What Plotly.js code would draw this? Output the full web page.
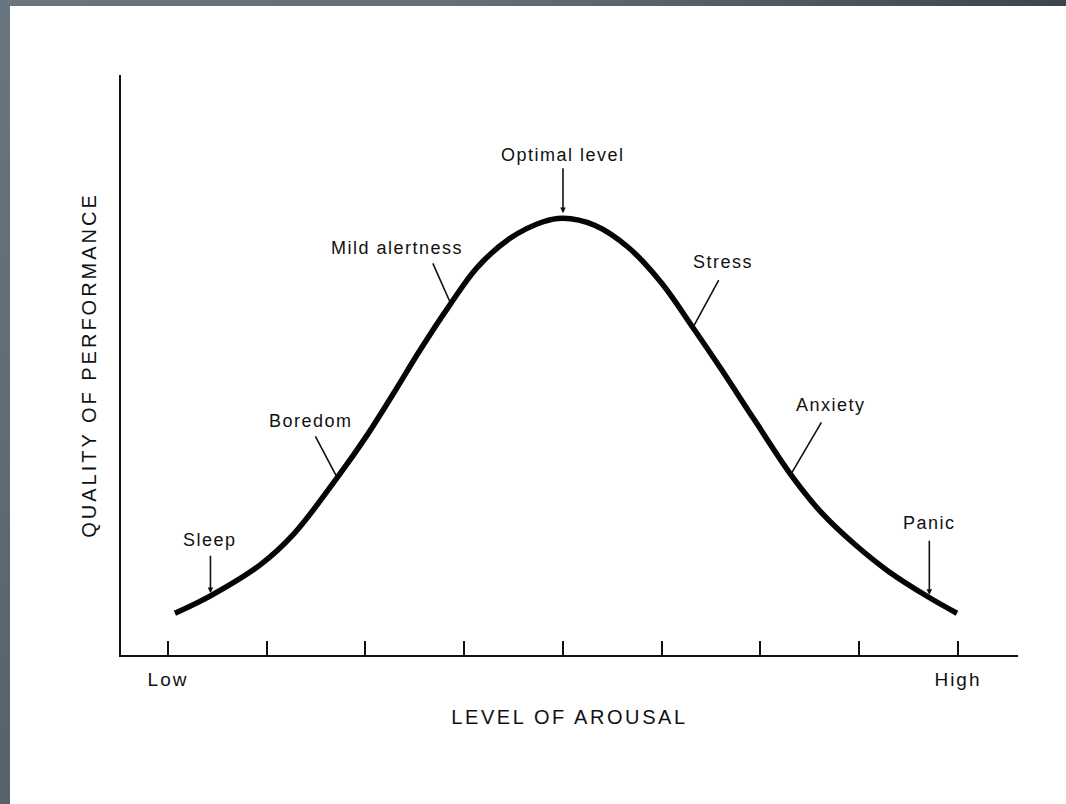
<!DOCTYPE html>
<html>
<head>
<meta charset="utf-8">
<script src="https://cdn.plot.ly/plotly-3.0.1.min.js"></script>
<style>
  html, body { margin: 0; padding: 0; width: 1066px; height: 804px; overflow: hidden; background: #ffffff; }
  #topband { position: absolute; left: 0; top: 0; width: 1066px; height: 6px;
    background: linear-gradient(to right, #69757f 0%, #626e78 45%, #3a4550 100%); }
  #leftband { position: absolute; left: 0; top: 0; width: 10px; height: 804px;
    background: linear-gradient(to bottom, #69757f 0%, #616c75 50%, #56616a 100%); }
  #chart { position: absolute; left: 0; top: 0; width: 1066px; height: 804px; }
  .xtitle { letter-spacing: 2.6px; }
  .ytitle { letter-spacing: 3px; }
  .annotation-text { letter-spacing: 1.5px; }
  .xtick text { letter-spacing: 2px; }
</style>
</head>
<body>
<div id="topband"></div>
<div id="leftband"></div>
<div id="chart"></div>
<script>
// Curve (arousal level 0 = Low ... 8 = High; quality in arbitrary units)
const arousalLevel = [0.07, 0.43, 0.93, 1.27, 1.71, 2.02, 2.28, 2.55, 2.86, 3.13, 3.46, 3.80, 4.00,
                      4.32, 4.66, 5.00, 5.31, 5.61, 5.94, 6.32, 6.62, 6.96, 7.29, 7.70, 7.99];
const performanceQuality = [0.72, 1.02, 1.55, 2.08, 3.05, 3.80, 4.50, 5.25, 6.05, 6.68, 7.18, 7.47, 7.53,
                            7.41, 7.03, 6.41, 5.66, 4.91, 4.05, 3.08, 2.45, 1.90, 1.45, 1.00, 0.72];

// Axis ticks
const tickValues = [0, 1, 2, 3, 4, 5, 6, 7, 8];
const tickLabels = ['Low', '', '', '', '', '', '', '', 'High'];

// State labels and the point on the curve each one points to
const stateLabels = ['Sleep', 'Boredom', 'Mild alertness', 'Optimal level', 'Stress', 'Anxiety', 'Panic'];
const stateLabelX = [0.43, 1.45, 2.32, 4.00, 5.62, 6.71, 7.71];
const stateLabelY = [1.98, 4.03, 7.02, 8.62, 6.78, 4.31, 2.28];
const pointerFromX = [0.43, 1.49, 2.68, 4.00, 5.58, 6.62, 7.71];
const pointerFromY = [1.72, 3.78, 6.76, 8.40, 6.47, 4.02, 1.98];
const pointerToX = [0.43, 1.71, 2.86, 4.00, 5.32, 6.31, 7.71];
const pointerToY = [1.05, 3.07, 6.07, 7.60, 5.66, 3.12, 1.02];

const textFont = { family: 'Liberation Sans, Arial, sans-serif', size: 18, color: '#111111' };

const annotations = [];
stateLabels.forEach((lab, i) => {
  annotations.push({
    x: pointerToX[i], y: pointerToY[i], xref: 'x', yref: 'y',
    ax: pointerFromX[i], ay: pointerFromY[i], axref: 'x', ayref: 'y',
    text: '', showarrow: true,
    arrowhead: (pointerFromX[i] === pointerToX[i]) ? 2 : 0,
    arrowsize: 0.7, arrowwidth: 1.6, arrowcolor: '#111111',
    standoff: 1, font: { size: 1 }, borderpad: 0
  });
  annotations.push({
    x: stateLabelX[i], y: stateLabelY[i], xref: 'x', yref: 'y',
    text: lab, showarrow: false, xanchor: 'center', yanchor: 'middle',
    font: textFont
  });
});

const trace = {
  x: arousalLevel, y: performanceQuality,
  type: 'scatter', mode: 'lines',
  line: { color: '#050505', width: 5.5, shape: 'spline', smoothing: 1 },
  hoverinfo: 'skip'
};

const layout = {
  width: 1066, height: 804,
  paper_bgcolor: 'rgba(0,0,0,0)', plot_bgcolor: 'rgba(0,0,0,0)',
  margin: { l: 121, r: 48, t: 75, b: 149, pad: 0 },
  showlegend: false,
  xaxis: {
    range: [-0.476, 8.608], showgrid: false, zeroline: false,
    showline: true, linecolor: '#111111', linewidth: 2,
    ticks: 'inside', ticklen: 14, tickwidth: 2, tickcolor: '#111111',
    tickmode: 'array', tickvals: tickValues, ticktext: tickLabels,
    ticklabelstandoff: 6,
    tickfont: { family: 'Liberation Sans, Arial, sans-serif', size: 19, color: '#111111' },
    title: { text: 'LEVEL OF AROUSAL', standoff: 21,
      font: { family: 'Liberation Sans, Arial, sans-serif', size: 20, color: '#111111' } },
    fixedrange: true, automargin: false
  },
  yaxis: {
    range: [0, 10], showgrid: false, zeroline: false,
    showline: true, linecolor: '#111111', linewidth: 2,
    ticks: '', showticklabels: false,
    title: { text: 'QUALITY OF PERFORMANCE', standoff: 17,
      font: { family: 'Liberation Sans, Arial, sans-serif', size: 20, color: '#111111' } },
    fixedrange: true, automargin: false
  },
  annotations: annotations
};

Plotly.newPlot('chart', [trace], layout, { staticPlot: true, displayModeBar: false });
</script>
</body>
</html>
